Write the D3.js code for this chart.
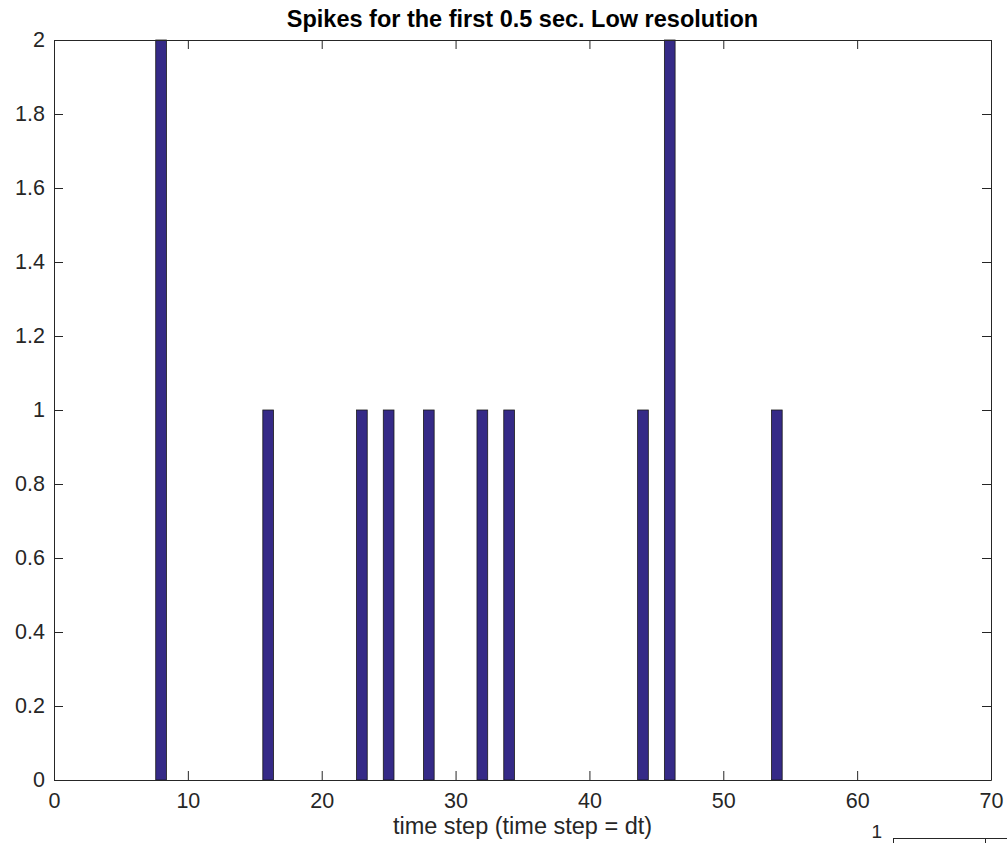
<!DOCTYPE html>
<html>
<head>
<meta charset="utf-8">
<script src="https://cdn.jsdelivr.net/npm/d3@7"></script>
<style>
  html, body { margin: 0; padding: 0; background: #fff; }
  svg { display: block; font-family: "Liberation Sans", Arial, Helvetica, sans-serif; }
</style>
</head>
<body>
<svg id="chart" width="1007" height="843"></svg>
<script>
// Spike counts per time step (steps 1..60); non-listed steps are zero
const timeSteps = d3.range(1, 61);
const spikeSteps = [8, 16, 23, 25, 28, 32, 34, 44, 46, 54];
const spikeCounts = [2, 1, 1, 1, 1, 1, 1, 1, 2, 1];
const xTicks = [0, 10, 20, 30, 40, 50, 60, 70];
const yTicks = [0, 0.2, 0.4, 0.6, 0.8, 1, 1.2, 1.4, 1.6, 1.8, 2];
const titleText = "Spikes for the first 0.5 sec. Low resolution";
const xLabelText = "time step (time step = dt)";

const countByStep = new Map(spikeSteps.map((s, i) => [s, spikeCounts[i]]));
const bars = timeSteps.map(t => ({ t, v: countByStep.get(t) || 0 }));

const svg = d3.select("#chart");
const m = { left: 54, right: 991, top: 40, bottom: 780 };
const axisColor = "#262626";
const barFill = "#352A87";
const barWidth = 0.8;

const x = d3.scaleLinear().domain([0, 70]).range([m.left, m.right]);
const y = d3.scaleLinear().domain([0, 2]).range([m.bottom, m.top]);

// bars (zero-height bars still draw their edge along the baseline)
svg.append("g").selectAll("rect").data(bars).join("rect")
  .attr("x", d => x(d.t - barWidth / 2))
  .attr("width", x(barWidth) - x(0))
  .attr("y", d => y(d.v))
  .attr("height", d => y(0) - y(d.v))
  .attr("fill", barFill)
  .attr("stroke", "#1a1a1a")
  .attr("stroke-width", 0.8);

const tickLen = 9;
const fontSize = 21.5;

// bottom axis with inward ticks
svg.append("g").attr("transform", `translate(0,${m.bottom})`)
  .call(d3.axisBottom(x).tickValues(xTicks).tickSizeInner(-tickLen).tickSizeOuter(0).tickPadding(13).tickFormat(d3.format("d")));
// left axis with inward ticks
svg.append("g").attr("transform", `translate(${m.left},0)`)
  .call(d3.axisLeft(y).tickValues(yTicks).tickSizeInner(-tickLen).tickSizeOuter(0).tickPadding(9).tickFormat(d => d3.format("~g")(d)));
// top and right mirror ticks
svg.append("g").attr("transform", `translate(0,${m.top})`)
  .call(d3.axisTop(x).tickValues(xTicks).tickSizeInner(-tickLen).tickSizeOuter(0).tickFormat(""));
svg.append("g").attr("transform", `translate(${m.right},0)`)
  .call(d3.axisRight(y).tickValues(yTicks).tickSizeInner(-tickLen).tickSizeOuter(0).tickFormat(""));

svg.selectAll(".domain").attr("stroke", axisColor).attr("stroke-width", 1);
svg.selectAll(".tick line").attr("stroke", axisColor).attr("stroke-width", 1);
svg.selectAll(".tick text").attr("fill", "#262626").attr("font-size", fontSize)
  .attr("font-family", "'Liberation Sans', Arial, sans-serif");

// title
svg.append("text")
  .attr("x", (m.left + m.right) / 2).attr("y", 27)
  .attr("text-anchor", "middle")
  .attr("font-weight", "bold").attr("font-size", 23.5)
  .attr("fill", "#000")
  .text(titleText);

// x label
svg.append("text")
  .attr("x", (m.left + m.right) / 2).attr("y", 834)
  .attr("text-anchor", "middle")
  .attr("font-size", 23.5)
  .attr("fill", "#262626")
  .text(xLabelText);

// top edge of the next subplot below
const g2 = svg.append("g");
g2.append("line").attr("x1", 893).attr("x2", 1007).attr("y1", 838.5).attr("y2", 838.5)
  .attr("stroke", axisColor);
g2.append("line").attr("x1", 893.5).attr("x2", 893.5).attr("y1", 838).attr("y2", 843)
  .attr("stroke", axisColor);
g2.append("line").attr("x1", 985.5).attr("x2", 985.5).attr("y1", 838).attr("y2", 843)
  .attr("stroke", axisColor);
g2.append("text").attr("x", 882).attr("y", 838).attr("text-anchor", "end")
  .attr("font-size", 19).attr("fill", "#262626").text("1");
</script>
</body>
</html>
